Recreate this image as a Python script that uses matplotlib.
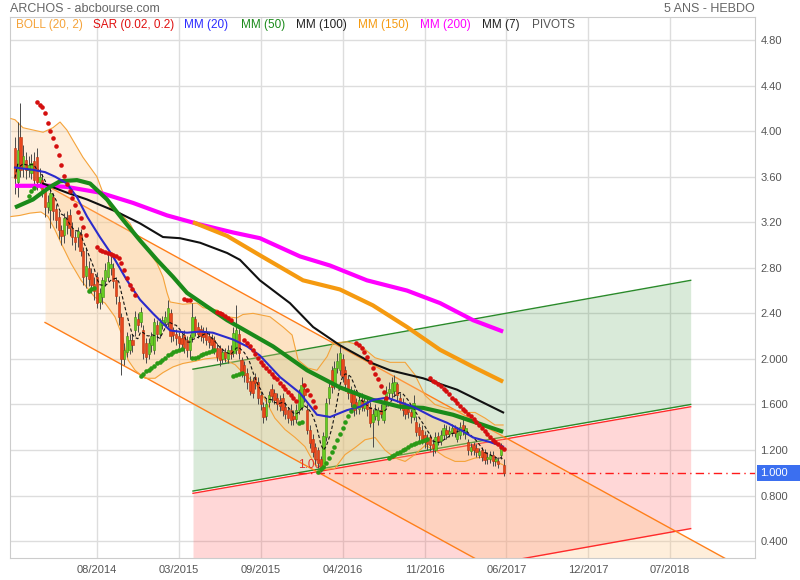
import numpy as np
import pandas as pd
from matplotlib import pyplot as plt
from matplotlib.patches import Rectangle

plt.rcParams['font.family'] = ['Liberation Sans', 'DejaVu Sans']

# weekly candles, week 0 = first bar of the chart
opens = [3.85, 3.55, 3.95, 3.68, 3.75, 3.66, 3.63, 3.74, 3.77, 3.55,
         3.57, 3.48, 3.33, 3.31, 3.42, 3.32, 3.25, 3.13, 3.09, 3.24,
         3.26, 3.14, 3.07, 3.07, 3.10, 2.95, 2.73, 2.80, 2.75, 2.66,
         2.72, 2.50, 2.54, 2.68, 2.72, 2.80, 2.80, 2.69, 2.50, 2.37,
         2.00, 2.06, 2.08, 2.17, 2.25, 2.35, 2.32, 2.25, 2.14, 2.04,
         2.12, 2.08, 2.30, 2.22, 2.30, 2.32, 2.32, 2.40, 2.25, 2.22,
         2.20, 2.18, 2.21, 2.17, 2.08, 2.19, 2.35, 2.28, 2.26, 2.24,
         2.24, 2.20, 2.18, 2.17, 2.10, 2.10, 2.00, 2.06, 2.00, 2.08,
         2.05, 2.08, 2.22, 1.99, 1.95, 1.88, 1.81, 1.81, 1.84, 1.80,
         1.68, 1.58, 1.50, 1.62, 1.74, 1.70, 1.66, 1.64, 1.66, 1.58,
         1.55, 1.55, 1.50, 1.47, 1.55, 1.58, 1.74, 1.55, 1.38, 1.30,
         1.23, 1.20, 1.12, 1.05, 1.31, 1.66, 1.90, 1.78, 1.92, 1.90,
         2.00, 1.90, 1.82, 1.72, 1.70, 1.62, 1.56, 1.64, 1.57, 1.62,
         1.58, 1.45, 1.50, 1.46, 1.55, 1.46, 1.61, 1.70, 1.70, 1.72,
         1.78, 1.66, 1.62, 1.58, 1.56, 1.53, 1.49, 1.45, 1.40, 1.38,
         1.33, 1.30, 1.31, 1.25, 1.20, 1.32, 1.28, 1.33, 1.38, 1.34,
         1.35, 1.39, 1.30, 1.33, 1.42, 1.34, 1.27, 1.19, 1.24, 1.22,
         1.16, 1.20, 1.18, 1.12, 1.12, 1.16, 1.10, 1.10, 1.16, 1.07]
closes = [3.59, 3.83, 3.66, 3.78, 3.66, 3.70, 3.72, 3.57, 3.55, 3.60,
          3.48, 3.33, 3.38, 3.46, 3.30, 3.22, 3.13, 3.08, 3.24, 3.18,
          3.15, 3.07, 3.03, 3.12, 2.95, 2.72, 2.82, 2.70, 2.65, 2.60,
          2.49, 2.58, 2.69, 2.78, 2.85, 2.83, 2.68, 2.55, 2.37, 2.00,
          2.08, 2.20, 2.17, 2.12, 2.37, 2.30, 2.41, 2.05, 2.02, 2.14,
          2.20, 2.32, 2.22, 2.32, 2.34, 2.37, 2.45, 2.20, 2.21, 2.18,
          2.14, 2.13, 2.10, 2.08, 2.19, 2.37, 2.24, 2.22, 2.20, 2.19,
          2.17, 2.15, 2.12, 2.08, 2.02, 1.99, 2.06, 2.01, 2.08, 2.04,
          2.23, 2.25, 2.05, 1.88, 1.86, 1.80, 1.72, 1.70, 1.79, 1.66,
          1.60, 1.49, 1.60, 1.68, 1.67, 1.64, 1.60, 1.59, 1.55, 1.52,
          1.48, 1.46, 1.47, 1.55, 1.70, 1.77, 1.68, 1.38, 1.26, 1.18,
          1.12, 1.09, 1.05, 1.32, 1.61, 1.75, 1.75, 1.92, 1.98, 2.05,
          1.85, 1.78, 1.70, 1.62, 1.55, 1.57, 1.64, 1.58, 1.63, 1.56,
          1.44, 1.52, 1.55, 1.55, 1.52, 1.61, 1.71, 1.74, 1.79, 1.80,
          1.68, 1.60, 1.55, 1.52, 1.53, 1.50, 1.61, 1.36, 1.33, 1.29,
          1.27, 1.25, 1.24, 1.22, 1.31, 1.28, 1.33, 1.39, 1.34, 1.37,
          1.39, 1.35, 1.36, 1.40, 1.37, 1.39, 1.20, 1.23, 1.20, 1.18,
          1.19, 1.14, 1.11, 1.14, 1.16, 1.10, 1.12, 1.08, 1.22, 1.00]
highs = [3.95, 4.08, 4.25, 3.88, 3.82, 3.78, 3.80, 3.82, 3.85, 3.68,
         3.62, 3.52, 3.44, 3.50, 3.46, 3.36, 3.30, 3.18, 3.28, 3.30,
         3.32, 3.20, 3.12, 3.16, 3.14, 2.98, 2.98, 2.86, 2.80, 2.72,
         2.76, 2.62, 2.72, 2.84, 2.92, 2.90, 2.84, 2.72, 2.55, 2.40,
         2.14, 2.24, 2.22, 2.22, 2.42, 2.40, 2.46, 2.30, 2.18, 2.18,
         2.24, 2.36, 2.34, 2.36, 2.38, 2.42, 2.52, 2.44, 2.28, 2.26,
         2.24, 2.22, 2.25, 2.20, 2.22, 2.49, 2.38, 2.32, 2.30, 2.28,
         2.28, 2.24, 2.22, 2.20, 2.14, 2.12, 2.10, 2.10, 2.12, 2.12,
         2.28, 2.47, 2.26, 2.02, 1.98, 1.92, 1.85, 1.84, 1.88, 1.84,
         1.72, 1.62, 1.66, 1.72, 1.78, 1.74, 1.70, 1.68, 1.70, 1.62,
         1.58, 1.60, 1.55, 1.60, 1.74, 1.84, 1.78, 1.60, 1.42, 1.34,
         1.26, 1.23, 1.15, 1.36, 1.66, 1.80, 1.94, 1.98, 2.05, 2.12,
         2.04, 1.94, 1.86, 1.76, 1.74, 1.66, 1.68, 1.70, 1.68, 1.66,
         1.62, 1.56, 1.60, 1.58, 1.60, 1.66, 1.76, 1.80, 1.84, 1.86,
         1.80, 1.70, 1.66, 1.62, 1.60, 1.56, 1.68, 1.50, 1.44, 1.42,
         1.37, 1.34, 1.34, 1.30, 1.36, 1.36, 1.38, 1.43, 1.42, 1.41,
         1.43, 1.42, 1.40, 1.45, 1.50, 1.42, 1.30, 1.26, 1.27, 1.25,
         1.22, 1.23, 1.21, 1.18, 1.19, 1.19, 1.15, 1.14, 1.26, 1.12]
lows = [3.45, 3.42, 3.60, 3.60, 3.58, 3.60, 3.58, 3.50, 3.48, 3.50,
        3.42, 3.25, 3.28, 3.15, 3.22, 3.15, 3.05, 3.00, 3.02, 3.10,
        3.08, 3.00, 2.96, 2.98, 2.90, 2.65, 2.62, 2.64, 2.58, 2.52,
        2.45, 2.44, 2.48, 2.64, 2.68, 2.74, 2.62, 2.48, 2.30, 1.86,
        1.95, 2.02, 2.04, 2.06, 2.20, 2.24, 2.28, 2.00, 1.96, 2.00,
        2.06, 2.04, 2.16, 2.18, 2.26, 2.28, 2.28, 2.15, 2.16, 2.12,
        2.10, 2.08, 2.05, 2.02, 2.00, 2.15, 2.20, 2.18, 2.16, 2.14,
        2.12, 2.10, 2.08, 2.04, 1.98, 1.94, 1.96, 1.97, 1.96, 2.00,
        2.02, 2.04, 2.00, 1.84, 1.80, 1.74, 1.68, 1.66, 1.74, 1.60,
        1.55, 1.44, 1.46, 1.58, 1.62, 1.60, 1.55, 1.54, 1.50, 1.47,
        1.44, 1.42, 1.42, 1.44, 1.52, 1.55, 1.62, 1.34, 1.22, 1.14,
        1.08, 1.04, 1.01, 1.03, 1.28, 1.60, 1.70, 1.74, 1.88, 1.86,
        1.80, 1.72, 1.65, 1.58, 1.50, 1.52, 1.52, 1.54, 1.54, 1.50,
        1.40, 1.23, 1.46, 1.42, 1.48, 1.44, 1.58, 1.66, 1.66, 1.68,
        1.62, 1.55, 1.50, 1.47, 1.48, 1.44, 1.46, 1.32, 1.28, 1.25,
        1.22, 1.20, 1.19, 1.15, 1.17, 1.24, 1.24, 1.30, 1.30, 1.31,
        1.32, 1.31, 1.27, 1.30, 1.33, 1.30, 1.16, 1.16, 1.16, 1.14,
        1.13, 1.10, 1.08, 1.08, 1.09, 1.06, 1.06, 1.04, 1.12, 0.97]

# moving averages (week, value)
mm20_weeks = [0, 6.6, 11, 14.7, 19, 22.7, 26.4, 31.1, 35.9, 41, 45.8, 50.5, 56.8, 63, 67.8,
              72.5, 79.9, 85, 89.7, 97.1, 104.4, 110.6, 115.4, 121.6, 126.4, 131.1, 136.3,
              141, 145.8, 153.1, 158.2, 163, 167.8, 174, 178.8]
mm20 = [3.68, 3.66, 3.64, 3.60, 3.54, 3.42, 3.25, 3.07, 2.90, 2.69, 2.52, 2.40, 2.25, 2.23, 2.24,
        2.23, 2.17, 2.11, 2.03, 1.84, 1.70, 1.51, 1.49, 1.55, 1.58, 1.64, 1.66,
        1.62, 1.58, 1.49, 1.44, 1.38, 1.31, 1.27, 1.23]
mm50_weeks = [0, 6.6, 12.8, 16.5, 22.7, 27.5, 33.7, 39.6, 45.8, 52, 57.9, 63, 70.3, 77.7, 85,
              94.5, 107, 119, 131.1, 141, 149.5, 160.4, 167.8, 178.8]
mm50 = [3.33, 3.40, 3.51, 3.56, 3.57, 3.54, 3.40, 3.22, 3.04, 2.87, 2.72, 2.58, 2.46, 2.34, 2.24,
        2.11, 1.90, 1.75, 1.64, 1.58, 1.57, 1.51, 1.45, 1.36]
mm100_weeks = [10.3, 19, 26.4, 37.4, 45.8, 54.2, 60.4, 67.8, 77.7, 82.4, 89.7, 100.7, 109.2,
               119, 131.1, 137.4, 149.5, 161.9, 178.8]
mm100 = [3.54, 3.46, 3.40, 3.29, 3.19, 3.07, 3.06, 3.02, 2.93, 2.87, 2.69, 2.49, 2.28,
         2.12, 1.96, 1.90, 1.83, 1.73, 1.53]
mm150_weeks = [65.2, 77.7, 89.7, 105.5, 119, 131.1, 143.6, 155.7, 167.8, 178.8]
mm150 = [3.20, 3.08, 2.91, 2.69, 2.61, 2.47, 2.28, 2.08, 1.93, 1.80]
mm200_weeks = [0, 12.8, 19, 31.1, 43.2, 55.7, 67.8, 79.9, 89.7, 104.4, 115.4, 128.9, 143.6,
               155.7, 167.8, 178.8]
mm200 = [3.52, 3.52, 3.51, 3.46, 3.37, 3.26, 3.18, 3.11, 3.06, 2.90, 2.82, 2.69, 2.60,
         2.49, 2.34, 2.24]

# Bollinger (20, 2) envelope
boll_up_weeks = [-1.5, 0, 2.9, 6.6, 10.3, 13.9, 16.5, 19, 21.2, 24.9, 30, 32.2, 34.8, 38.5, 42.1,
                 44.7, 48.4, 52, 54.2, 55.7, 56.8, 61.5, 66.7, 68.9, 74, 77.7, 81.3, 83.5, 87.2,
                 93.4, 98.2, 101.5, 103.7, 107.3, 110.6, 114.3, 116.5, 121.6, 126.4, 131.9,
                 137.4, 142.9, 146.5, 150.2, 153.8, 157.5, 161.2, 164.8, 168.5, 172.2, 175.8, 178.8]
boll_up = [4.11, 4.10, 4.03, 4.01, 3.99, 4.03, 4.08, 4.01, 3.92, 3.77, 3.60, 3.46, 3.33, 3.28, 3.19,
           3.07, 2.96, 2.84, 2.72, 2.58, 2.50, 2.48, 2.49, 2.45, 2.43, 2.37, 2.36, 2.39, 2.40,
           2.37, 2.28, 2.21, 1.99, 1.92, 1.90, 2.02, 2.14, 2.15, 2.12, 2.01,
           1.97, 1.97, 1.86, 1.68, 1.60, 1.57, 1.55, 1.53, 1.53, 1.48, 1.42, 1.42]
boll_low_weeks = [-1.5, 1.8, 5.5, 9.5, 12.1, 14.7, 16.8, 20.5, 24.2, 29.3, 33, 36.6, 39.2, 41.4,
                  44, 47.6, 51.3, 54.2, 57.9, 61.5, 65.9, 69.6, 73.3, 76.9, 80.6, 84.2, 87.9,
                  91.6, 95.2, 98.9, 102.6, 106.2, 109.9, 113.6, 117.2, 120.9, 124.5, 128.2,
                  131.9, 135.5, 139.2, 142.9, 146.5, 150.2, 153.8, 157.5, 161.2, 164.8, 168.5,
                  172.2, 175.8, 178.8]
boll_low = [3.25, 3.26, 3.28, 3.29, 3.25, 3.13, 3.02, 2.84, 2.69, 2.54, 2.49, 2.37, 2.21, 1.99,
            1.90, 1.83, 1.83, 1.88, 1.93, 1.96, 1.98, 2.00, 2.01, 1.99, 1.95, 1.86, 1.79,
            1.64, 1.48, 1.38, 1.31, 1.23, 1.07, 1.03, 1.04, 1.16, 1.22, 1.29,
            1.31, 1.20, 1.13, 1.10, 1.16, 1.24, 1.20, 1.14, 1.10, 1.10, 1.13,
            1.14, 1.10, 1.07]

# parabolic SAR (0.02, 0.2): runs of (first week, values)
sar_red = [(8, [4.26, 4.23, 4.21, 4.16, 4.07, 4.00, 3.94, 3.87, 3.79, 3.70, 3.61, 3.54, 3.47,
                3.41, 3.35, 3.29, 3.24, 3.16, 3.09]),
           (30, [2.98, 2.96, 2.95, 2.94, 2.93, 2.92, 2.91, 2.90, 2.89, 2.84, 2.78, 2.71, 2.65,
                 2.61, 2.56]),
           (62, [2.53, 2.52, 2.52]),
           (74, [2.41, 2.40, 2.39, 2.38, 2.36, 2.34]),
           (84, [2.17, 2.14, 2.11, 2.08, 2.04, 2.01, 1.97, 1.95, 1.92, 1.89, 1.87, 1.84, 1.82,
                 1.79, 1.76, 1.74, 1.71, 1.68, 1.66, 1.63]),
           (106, [1.77, 1.73, 1.68, 1.63, 1.58]),
           (125, [2.14, 2.12, 2.10, 2.06, 2.02, 1.97, 1.92, 1.87, 1.82, 1.76, 1.71, 1.66]),
           (152, [1.83, 1.81, 1.80, 1.78, 1.76, 1.74, 1.72, 1.69, 1.66, 1.64, 1.61, 1.59, 1.56,
                  1.54, 1.52, 1.50, 1.47, 1.45, 1.42, 1.39, 1.37, 1.34, 1.31, 1.29, 1.27, 1.25,
                  1.23, 1.21])]
sar_green = [(5, [3.43, 3.47, 3.50]),
             (27, [2.60, 2.61, 2.62]),
             (46, [1.85, 1.87, 1.89, 1.90, 1.92, 1.94, 1.96, 1.97, 1.99, 2.01, 2.03, 2.04, 2.06,
                   2.07, 2.08, 2.09]),
             (65, [2.01, 2.01, 2.02, 2.03, 2.04, 2.05, 2.06, 2.07, 2.08]),
             (80, [1.85, 1.86, 1.87, 1.88]),
             (104, [1.44, 1.45]),
             (111, [1.01, 1.03, 1.05, 1.09, 1.13, 1.18, 1.23, 1.29, 1.34, 1.39, 1.45, 1.50, 1.54,
                    1.59]),
             (137, [1.13, 1.15, 1.16, 1.17, 1.18, 1.20, 1.21, 1.23, 1.24, 1.25, 1.26, 1.27, 1.28,
                    1.29, 1.30])]

# pivot lines drawn on the chart: value at both end weeks
orange_weeks = [11, 271]
orange_top = [3.53, 0.105]
orange_bot = [2.32, -1.10]
green_weeks = [65.2, 247.5]
green_top = [1.91, 2.69]
green_bot = [0.84, 1.60]
red_top = [0.82, 1.58]
red_bot = [-0.27, 0.51]
pivot_start = 103.7
pivot_level = 1.00
last_price = 1.00

ytick_vals = [0.4, 0.8, 1.2, 1.6, 2.0, 2.4, 2.8, 3.2, 3.6, 4.0, 4.4, 4.8]
ytick_labels = ["0.400", "0.800", "1.200", "1.600", "2.000", "2.40", "2.80", "3.20",
                "3.60", "4.00", "4.40", "4.80"]
xtick_weeks = [30, 60, 90, 120, 150, 180, 210, 240]
xtick_labels = ["08/2014", "03/2015", "09/2015", "04/2016", "11/2016", "06/2017",
                "12/2017", "07/2018"]
legend_names = ["BOLL (20, 2)", "SAR (0.02, 0.2)", "MM (20)", "MM (50)", "MM (100)",
                "MM (150)", "MM (200)", "MM (7)", "PIVOTS"]
legend_colors = ["#f5a33a", "#e01010", "#2b2bff", "#1a8a1a", "#222222", "#f59a10",
                 "#ff00ff", "#222222", "#555555"]
legend_x = [16, 93, 184, 241, 296, 358, 420, 482, 532]

fig = plt.figure(figsize=(8, 5.8), dpi=100)
ax = fig.add_axes([10 / 800, 22 / 580, 745 / 800, 541 / 580])

# pivot channels
ax.fill_between(green_weeks, red_top, red_bot, color="#ff4d4d", alpha=0.22, lw=0, zorder=1)
ax.fill_between(green_weeks, green_top, green_bot, color="#2e8b2e", alpha=0.18, lw=0, zorder=1)
ax.fill_between(orange_weeks, orange_top, orange_bot, color="#fcc98a", alpha=0.3, lw=0, zorder=1)
ax.plot(green_weeks, red_bot, color="#ff2a2a", lw=1, zorder=2)
ax.plot(green_weeks, red_top, color="#ff2a2a", lw=1, zorder=2)
ax.plot(green_weeks, green_top, color="#2a8a2a", lw=1, zorder=2)
ax.plot(green_weeks, green_bot, color="#2a8a2a", lw=1, zorder=2)
ax.plot(orange_weeks, orange_top, color="#ff7f1a", lw=1, zorder=2)
ax.plot(orange_weeks, orange_bot, color="#ff7f1a", lw=1, zorder=2)

# bollinger
bw = np.union1d(boll_up_weeks, boll_low_weeks)
ax.fill_between(bw, np.interp(bw, boll_up_weeks, boll_up), np.interp(bw, boll_low_weeks, boll_low),
                color="#fcc98a", alpha=0.3, lw=0, zorder=2)
ax.plot(boll_up_weeks, boll_up, color="#f5a33a", lw=0.8, zorder=3)
ax.plot(boll_low_weeks, boll_low, color="#f5a33a", lw=0.8, zorder=3)

# candles
weeks = np.arange(len(closes))
o = np.array(opens)
c = np.array(closes)
up = c >= o
ax.vlines(weeks, lows, highs, color="#4a4a4a", lw=0.7, zorder=4)
ax.bar(weeks[up], (c - o)[up], bottom=o[up], width=0.85, color="#66cc22",
       edgecolor="#3f8f10", lw=0.4, zorder=5)
ax.bar(weeks[~up], (o - c)[~up], bottom=c[~up], width=0.85, color="#e8461c",
       edgecolor="#b8330f", lw=0.4, zorder=5)

# moving averages
mm7 = pd.Series(closes).rolling(7, min_periods=1).mean()
ax.plot(weeks, mm7, color="#111111", lw=0.8, ls=(0, (3, 2)), zorder=6)
ax.plot(mm200_weeks, mm200, color="#ff00ff", lw=3, zorder=6, solid_capstyle="butt")
ax.plot(mm150_weeks, mm150, color="#f59a10", lw=3, zorder=6, solid_capstyle="butt")
ax.plot(mm100_weeks, mm100, color="#111111", lw=1.5, zorder=6)
ax.plot(mm50_weeks, mm50, color="#1a8a1a", lw=3, zorder=6, solid_capstyle="butt")
ax.plot(mm20_weeks, mm20, color="#2b2bcc", lw=1.5, zorder=6)

# SAR dots
for start, vals in sar_red:
    ax.plot(np.arange(start, start + len(vals)), vals, "o", color="#d40f0f", ms=3.3, mew=0, zorder=7)
for start, vals in sar_green:
    ax.plot(np.arange(start, start + len(vals)), vals, "o", color="#2a9a16", ms=3.3, mew=0, zorder=7)

# pivot level
ax.plot([pivot_start, 300], [pivot_level, pivot_level], color="#ff1a1a", lw=1,
        ls=(0, (6, 3, 1, 3)), zorder=3)
ax.text(pivot_start, pivot_level + 0.02, "1.00", color="#e03030", fontsize=8.5,
        ha="left", va="bottom", zorder=3)

ax.set_xlim(-1.83, 271.06)
ax.set_ylim(0.252, 5.002)
ax.set_axisbelow(True)
ax.grid(True, color="#dddddd", lw=1)
ax.set_yticks(ytick_vals)
ax.set_yticklabels(ytick_labels)
ax.set_xticks(xtick_weeks)
ax.set_xticklabels(xtick_labels)
ax.yaxis.tick_right()
ax.tick_params(length=0, labelsize=8, labelcolor="#555555")
ax.tick_params(axis="y", pad=4)
ax.tick_params(axis="x", pad=5)
for s in ax.spines.values():
    s.set_color("#cccccc")

# last price box on the right scale
fig.canvas.draw()
ypix = ax.transData.transform((0, last_price))[1]
fig.patches.append(Rectangle((757 / 800, (ypix - 8) / 580), 43 / 800, 16 / 580,
                             transform=fig.transFigure, fc="#3b6ff0", ec="none", zorder=5))
fig.text(760 / 800, ypix / 580, "{:.3f}".format(last_price), color="white", fontsize=8,
         ha="left", va="center", zorder=6)

fig.text(10 / 800, 1 - 9 / 580, "ARCHOS - abcbourse.com", color="#666666", fontsize=9,
         ha="left", va="center")
fig.text(755 / 800, 1 - 9 / 580, "5 ANS - HEBDO", color="#666666", fontsize=9,
         ha="right", va="center")
for name, col, x in zip(legend_names, legend_colors, legend_x):
    fig.text(x / 800, 1 - 25 / 580, name, color=col, fontsize=8.5, ha="left", va="center")

fig.savefig("out.png", dpi=100)
